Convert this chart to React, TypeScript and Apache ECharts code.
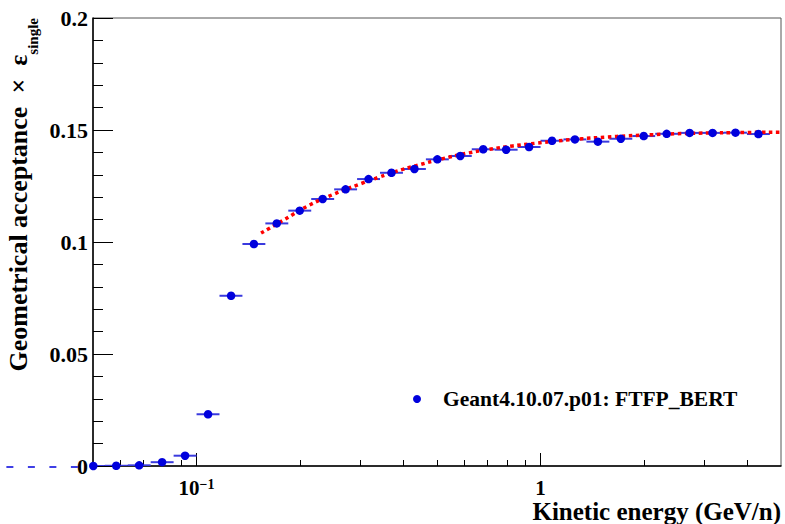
import React, { useEffect, useRef } from 'react';
import * as echarts from 'echarts';

// Bin centres (GeV/n) and bin edges (15 log bins per decade)
const binCenters = [
  0.0501, 0.0584, 0.0681, 0.0794, 0.0926, 0.108, 0.126, 0.1468, 0.1711, 0.1995,
  0.2326, 0.2712, 0.3162, 0.3687, 0.4299, 0.5012, 0.5843, 0.6813, 0.7943, 0.9261,
  1.0798, 1.2589, 1.4678, 1.7113, 1.9953, 2.3263, 2.7123, 3.1623, 3.6869, 4.2987,
];
const binEdges = [
  0.05, 0.05412, 0.0631, 0.07356, 0.08577, 0.1, 0.11659, 0.13594, 0.15849, 0.18478,
  0.21544, 0.25119, 0.29286, 0.34145, 0.39811, 0.46416, 0.54117, 0.63096, 0.73564, 0.8577,
  1.0, 1.16591, 1.35936, 1.58489, 1.84785, 2.15443, 2.51189, 2.92864, 3.41455, 3.98107,
  4.64159,
];
const acceptance = [
  0.0, 0.0001, 0.0003, 0.0017, 0.0046, 0.0231, 0.076, 0.0991, 0.1083, 0.114,
  0.1192, 0.1235, 0.1281, 0.1309, 0.1326, 0.1369, 0.1384, 0.1414, 0.1412, 0.1424,
  0.1452, 0.1458, 0.1448, 0.1461, 0.1473, 0.1483, 0.1487, 0.1487, 0.1488, 0.1482,
];

// Fit curve (red dotted)
const fitX = [
  0.154, 0.18, 0.21, 0.25, 0.3, 0.34, 0.38, 0.44, 0.52, 0.61, 0.71, 0.83, 0.97,
  1.13, 1.32, 1.54, 1.8, 2.11, 2.46, 2.88, 3.93, 5.0,
];
const fitY = [
  0.104, 0.11, 0.116, 0.1213, 0.126, 0.129, 0.1315, 0.1343, 0.1372, 0.1396, 0.1414,
  0.1429, 0.1441, 0.1452, 0.1461, 0.1468, 0.1474, 0.1479, 0.1483, 0.1486, 0.1489,
  0.149,
];

// Left dashed stub along y = 0 (extends left of the frame)
const stubX = [0.028, 0.0501];
const stubY = [0, 0];

const xMin = 0.05;
const xMax = 5;
const xMajorTicks = [0.1, 1];
const xMinorTicks = [0.06, 0.07, 0.08, 0.09, 0.2, 0.3, 0.4, 0.5, 0.6, 0.7, 0.8, 0.9, 2, 3, 4];
const yMin = 0;
const yMax = 0.2;
const yInterval = 0.05;

const seriesName = 'Geant4.10.07.p01: FTFP_BERT';
const xTitle = 'Kinetic energy (GeV/n)';
const yTitleMain = 'Geometrical acceptance  \u00d7  \u03b5';
const yTitleSub = 'single';

const FONT = '"Liberation Serif", "Times New Roman", serif';

export default function App() {
  const ref = useRef<HTMLDivElement>(null);

  useEffect(() => {
    if (!ref.current) return;
    const chart = echarts.init(ref.current, null, { renderer: 'svg' });
    const lg = (v: number) => Math.log10(v);

    const option: any = {
      animation: false,
      backgroundColor: '#fff',
      grid: {
        left: 93,
        right: 4,
        top: 18,
        bottom: 58,
        show: true,
        borderColor: '#555',
        borderWidth: 1,
        containLabel: false,
        outerBoundsMode: 'none',
      },
      legend: {
        data: [seriesName],
        left: 408,
        top: 383,
        icon: 'circle',
        itemWidth: 8,
        itemHeight: 8,
        textStyle: {
          fontFamily: FONT,
          fontWeight: 'bold',
          fontSize: 21.5,
          color: '#000',
          padding: [0, 0, 0, 17],
        },
      },
      xAxis: [
        {
          type: 'log',
          logBase: 10,
          min: xMin,
          max: xMax,
          position: 'bottom',
          axisLine: { show: true, onZero: false, lineStyle: { color: '#000', width: 1.5 } },
          axisTick: { show: false },
          axisLabel: { show: false },
          splitLine: { show: false },
          minorTick: { show: false },
          minorSplitLine: { show: false },
        },
        {
          type: 'value',
          min: lg(xMin),
          max: lg(xMax),
          position: 'bottom',
          offset: 0,
          axisLine: { show: false, onZero: false },
          axisTick: {
            show: true,
            inside: true,
            length: 13,
            customValues: xMajorTicks.map(lg),
            lineStyle: { color: '#000', width: 1 },
          },
          axisLabel: {
            show: true,
            margin: 11,
            customValues: xMajorTicks.map(lg),
            formatter: (v: number) => {
              const e = Math.round(v);
              if (e === 0) return '{b|1}';
              return '{b|10}{s|' + (e < 0 ? '\u2212' : '') + Math.abs(e) + '}';
            },
            rich: {
              b: {
                fontFamily: FONT,
                fontWeight: 'bold',
                fontSize: 21,
                color: '#000',
                lineHeight: 22,
                verticalAlign: 'middle',
              },
              s: {
                fontFamily: FONT,
                fontWeight: 'bold',
                fontSize: 14,
                color: '#000',
                lineHeight: 6,
                verticalAlign: 'top',
              },
            },
          },
          splitLine: { show: false },
        },
        {
          type: 'value',
          min: lg(xMin),
          max: lg(xMax),
          position: 'bottom',
          offset: 0,
          axisLine: { show: false, onZero: false },
          axisTick: {
            show: true,
            inside: true,
            length: 6,
            customValues: xMinorTicks.map(lg),
            lineStyle: { color: '#000', width: 1 },
          },
          axisLabel: { show: false },
          splitLine: { show: false },
        },
      ],
      yAxis: {
        type: 'value',
        min: yMin,
        max: yMax,
        interval: yInterval,
        position: 'left',
        axisLine: { show: true, onZero: false, lineStyle: { color: '#000', width: 1.5 } },
        axisTick: { show: true, inside: true, length: 20, lineStyle: { color: '#000', width: 1 } },
        minorTick: { show: true, splitNumber: 5, length: 10, lineStyle: { color: '#000', width: 1 } },
        splitLine: { show: false },
        minorSplitLine: { show: false },
        axisLabel: {
          margin: 5,
          fontFamily: FONT,
          fontWeight: 'bold',
          fontSize: 22,
          color: '#000',
          formatter: (v: number) => String(+v.toFixed(3)),
        },
      },
      series: [
        {
          type: 'custom',
          name: 'errors',
          xAxisIndex: 0,
          yAxisIndex: 0,
          z: 2,
          clip: true,
          data: binCenters.map((x, i) => [x, acceptance[i], binEdges[i], binEdges[i + 1]]),
          encode: { x: 0, y: 1 },
          renderItem: (_params: any, api: any) => {
            const y = api.value(1);
            const p1 = api.coord([api.value(2), y]);
            const p2 = api.coord([api.value(3), y]);
            return {
              type: 'line',
              shape: { x1: p1[0], y1: p1[1], x2: p2[0], y2: p2[1] },
              style: { stroke: '#3a3ade', lineWidth: 2 },
            };
          },
        },
        {
          type: 'custom',
          name: 'stub',
          xAxisIndex: 0,
          yAxisIndex: 0,
          z: 1,
          clip: false,
          data: [[stubX[0], stubY[0], stubX[1], stubY[1]]],
          encode: { x: 2, y: 3 },
          renderItem: (_params: any, api: any) => {
            // extrapolate the log scale beyond the axis minimum using two in-range coords
            const a = api.coord([xMin, api.value(1)]);
            const b = api.coord([xMajorTicks[0], api.value(1)]);
            const pxPerDecade = (b[0] - a[0]) / (lg(xMajorTicks[0]) - lg(xMin));
            const x0 = a[0] + (lg(api.value(0)) - lg(xMin)) * pxPerDecade;
            const x1 = a[0] + (lg(api.value(2)) - lg(xMin)) * pxPerDecade;
            return {
              type: 'line',
              shape: { x1: x0, y1: a[1] + 1, x2: x1, y2: a[1] + 1 },
              style: { stroke: '#0000dd', lineWidth: 1.5, lineDash: [7, 14.5] },
            };
          },
        },
        {
          type: 'line',
          name: 'fit',
          xAxisIndex: 0,
          data: fitX.map((x, i) => [x, fitY[i]]),
          smooth: true,
          symbol: 'none',
          showSymbol: false,
          z: 3,
          lineStyle: { color: '#ff0000', width: 3.5, type: [3.5, 3.5] },
        },
        {
          type: 'scatter',
          name: seriesName,
          xAxisIndex: 0,
          data: binCenters.map((x, i) => [x, acceptance[i]]),
          symbol: 'circle',
          symbolSize: 8.5,
          z: 4,
          itemStyle: { color: '#0000dd', opacity: 1 },
        },
      ],
      graphic: [
        {
          type: 'text',
          right: 4,
          top: 499,
          style: {
            text: xTitle,
            fontFamily: FONT,
            fontWeight: 'bold',
            fontSize: 25,
            lineHeight: 20,
            fill: '#000',
          },
        },
        {
          type: 'text',
          x: 18,
          y: 18,
          rotation: Math.PI / 2,
          style: {
            text: '{a|' + yTitleMain + '}{b|' + yTitleSub + '}',
            align: 'right',
            verticalAlign: 'middle',
            rich: {
              a: {
                fontFamily: FONT,
                fontWeight: 'bold',
                fontSize: 26,
                fill: '#000',
                lineHeight: 44,
                verticalAlign: 'middle',
              },
              b: {
                fontFamily: FONT,
                fontWeight: 'bold',
                fontSize: 15,
                fill: '#000',
                lineHeight: 16,
                verticalAlign: 'bottom',
              },
            },
          },
        },
      ],
    };

    chart.setOption(option);
    return () => chart.dispose();
  }, []);

  return (
    <div
      ref={ref}
      style={{ position: 'fixed', left: 0, top: 0, width: 785, height: 524, background: '#fff' }}
    />
  );
}
